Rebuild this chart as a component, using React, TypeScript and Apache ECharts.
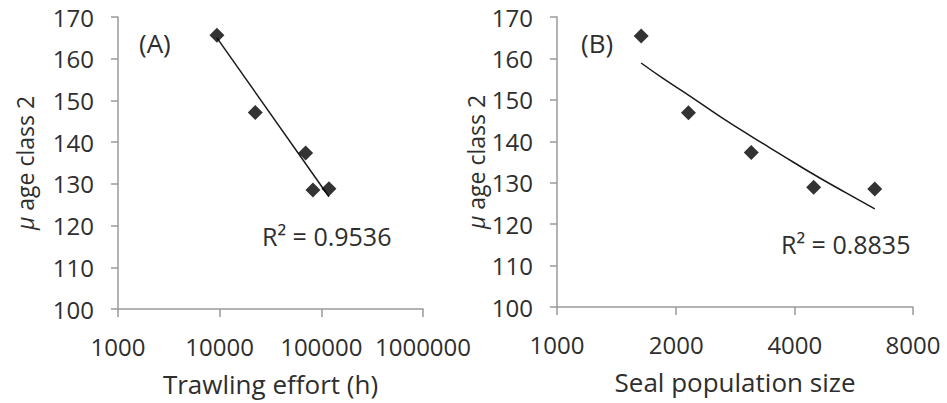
import React, { useEffect, useRef } from "react";
import * as echarts from "echarts";

// Panel A: trawling effort (h) vs mean age class 2
const trawlingEffort = [9400, 22400, 70100, 82700, 118800];
const ageA = [165.6, 147.1, 137.4, 128.5, 128.8];
const trendAX = [9400, 118800];
const trendAY = [165.0, 126.9];

// Panel B: seal population size vs mean age class 2
const sealPop = [1635, 2155, 3110, 4478, 6398];
const ageB = [165.4, 146.9, 137.3, 128.9, 128.5];
const trendBX = [1635, 1850, 2160, 2600, 3110, 3700, 4460, 5400, 6400];
const trendBY = [158.9, 155.3, 151.1, 145.9, 141.2, 136.8, 132.1, 127.6, 123.7];

const r2A = "R² = 0.9536";
const r2B = "R² = 0.8835";

const FONT = "'Open Sans', sans-serif";
const TXT = "#2e2e2e";
const AXIS = "#9a9a9a";

function pairs(xs: number[], ys: number[]) {
  return xs.map((x, i) => [x, ys[i]]);
}

export default function App() {
  const ref = useRef<HTMLDivElement>(null);
  useEffect(() => {
    if (!ref.current) return;
    const chart = echarts.init(ref.current, undefined, { renderer: "svg" });
    const yAxisBase = (gridIndex: number, nameGap: number) => ({
      type: "value",
      gridIndex,
      min: 100,
      max: 170,
      interval: 10,
      name: "{mu|μ} age class 2",
      nameLocation: "middle",
      nameGap,
      nameTextStyle: {
        fontFamily: FONT,
        fontSize: 23,
        color: TXT,
        rich: {
          mu: { fontFamily: FONT, fontSize: 23, color: TXT, fontStyle: "italic" },
        },
      },
      axisLine: { show: true, lineStyle: { color: AXIS, width: 1.5 } },
      axisTick: { show: true, length: 7, lineStyle: { color: AXIS, width: 1.5 } },
      splitLine: { show: false },
      axisLabel: { fontFamily: FONT, fontSize: 24, color: TXT, margin: 24 },
    });
    const xAxisBase = (gridIndex: number, name: string) => ({
      type: "log",
      gridIndex,
      name,
      nameLocation: "middle",
      nameGap: 62,
      nameTextStyle: { fontFamily: FONT, fontSize: 26, color: TXT },
      axisLine: { show: true, lineStyle: { color: AXIS, width: 1.5 } },
      axisTick: { show: true, length: 8, lineStyle: { color: AXIS, width: 1.5 } },
      splitLine: { show: false },
      minorTick: { show: false },
      axisLabel: {
        fontFamily: FONT,
        fontSize: 24,
        color: TXT,
        margin: 25,
        formatter: (v: number) => String(Number(v.toPrecision(2))),
      },
    });
    const option: any = {
      animation: false,
      backgroundColor: "#ffffff",
      grid: [
        { left: 118, top: 17, width: 305, height: 292 },
        { left: 557, top: 17, width: 356, height: 290 },
      ],
      xAxis: [
        { ...xAxisBase(0, "Trawling effort (h)"), logBase: 10, min: 1000, max: 1000000 },
        { ...xAxisBase(1, "Seal population size"), logBase: 2, min: 1000, max: 8000, interval: 1 },
      ],
      yAxis: [yAxisBase(0, 82), yAxisBase(1, 65)],
      series: [
        {
          type: "line",
          xAxisIndex: 0,
          yAxisIndex: 0,
          data: pairs(trendAX, trendAY),
          showSymbol: false,
          lineStyle: { color: "#1a1a1a", width: 1.5 },
          z: 1,
        },
        {
          type: "scatter",
          xAxisIndex: 0,
          yAxisIndex: 0,
          data: pairs(trawlingEffort, ageA),
          symbol: "diamond",
          symbolSize: 15,
          itemStyle: { color: "#000000" },
          z: 2,
        },
        {
          type: "line",
          xAxisIndex: 1,
          yAxisIndex: 1,
          data: pairs(trendBX, trendBY),
          showSymbol: false,
          smooth: true,
          lineStyle: { color: "#1a1a1a", width: 1.5 },
          z: 1,
        },
        {
          type: "scatter",
          xAxisIndex: 1,
          yAxisIndex: 1,
          data: pairs(sealPop, ageB),
          symbol: "diamond",
          symbolSize: 15,
          itemStyle: { color: "#000000" },
          z: 2,
        },
      ],
      graphic: [
        {
          type: "text",
          left: 139,
          top: 30,
          style: { text: "(A)", fontFamily: FONT, fontSize: 26, fill: TXT },
        },
        {
          type: "text",
          left: 581,
          top: 30,
          style: { text: "(B)", fontFamily: FONT, fontSize: 26, fill: TXT },
        },
        {
          type: "text",
          left: 262,
          top: 223,
          style: { text: r2A, fontFamily: FONT, fontSize: 25, fill: TXT },
        },
        {
          type: "text",
          left: 781,
          top: 231,
          style: { text: r2B, fontFamily: FONT, fontSize: 25, fill: TXT },
        },
      ],
    };
    chart.setOption(option);
    return () => chart.dispose();
  }, []);
  return (
    <div
      ref={ref}
      style={{ position: "absolute", left: 0, top: 0, width: 947, height: 403 }}
    />
  );
}
